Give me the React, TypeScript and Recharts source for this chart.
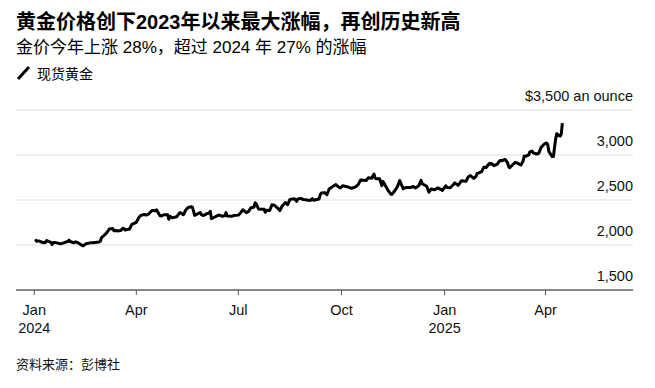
import { LineChart, Line, XAxis, YAxis, CartesianGrid } from 'recharts'

// spot gold, USD per ounce
const dates2024 = [
  '01-02', '01-03', '01-04', '01-05', '01-08', '01-09', '01-10', '01-11', '01-12', '01-16',
  '01-17', '01-18', '01-19', '01-22', '01-24', '01-26', '01-29', '01-31', '02-01', '02-02',
  '02-05', '02-07', '02-09', '02-13', '02-14', '02-16', '02-20', '02-22', '02-26', '02-28',
  '02-29', '03-01', '03-04', '03-05', '03-07', '03-08', '03-11', '03-12', '03-14', '03-15',
  '03-18', '03-20', '03-21', '03-22', '03-26', '03-28', '04-01', '04-03', '04-05', '04-08',
  '04-10', '04-12', '04-15', '04-16', '04-18', '04-19', '04-22', '04-23', '04-25', '04-26',
  '04-29', '04-30', '05-01', '05-03', '05-07', '05-09', '05-10', '05-13', '05-15', '05-17',
  '05-20', '05-21', '05-22', '05-23', '05-24', '05-28', '05-29', '05-31', '06-03', '06-05',
  '06-06', '06-07', '06-10', '06-12', '06-14', '06-17', '06-19', '06-20', '06-21', '06-25',
  '06-27', '07-01', '07-03', '07-05', '07-08', '07-10', '07-12', '07-15', '07-16', '07-17',
  '07-19', '07-22', '07-24', '07-25', '07-26', '07-29', '07-31', '08-02', '08-05', '08-07',
  '08-09', '08-12', '08-14', '08-16', '08-20', '08-22', '08-23', '08-26', '08-28', '08-30',
  '09-03', '09-05', '09-06', '09-09', '09-11', '09-12', '09-13', '09-16', '09-18', '09-20',
  '09-24', '09-26', '09-27', '09-30', '10-02', '10-04', '10-07', '10-10', '10-14', '10-16',
  '10-18', '10-21', '10-23', '10-25', '10-28', '10-30', '10-31', '11-01', '11-04', '11-06',
  '11-07', '11-08', '11-12', '11-14', '11-15', '11-18', '11-20', '11-22', '11-25', '11-26',
  '11-28', '12-02', '12-04', '12-06', '12-09', '12-11', '12-12', '12-16', '12-18', '12-20',
  '12-23', '12-26', '12-30', '12-31',
]
const prices2024 = [
  2063, 2041, 2043, 2045, 2028, 2030, 2024, 2029, 2049, 2028,
  2006, 2023, 2029, 2021, 2014, 2018, 2033, 2039, 2054, 2039,
  2025, 2035, 2024, 1992, 1992, 2013, 2024, 2024, 2031, 2034,
  2044, 2083, 2115, 2128, 2160, 2179, 2182, 2158, 2162, 2156,
  2160, 2186, 2181, 2166, 2178, 2230, 2251, 2300, 2329, 2339,
  2333, 2344, 2383, 2383, 2379, 2391, 2327, 2322, 2332, 2337,
  2335, 2286, 2320, 2301, 2314, 2346, 2360, 2336, 2386, 2415,
  2425, 2421, 2379, 2329, 2334, 2361, 2338, 2327, 2349, 2355,
  2375, 2293, 2311, 2324, 2333, 2319, 2328, 2360, 2322, 2319,
  2327, 2332, 2356, 2392, 2359, 2371, 2411, 2422, 2469, 2458,
  2400, 2396, 2398, 2364, 2387, 2384, 2448, 2443, 2410, 2382,
  2431, 2472, 2447, 2507, 2514, 2485, 2512, 2518, 2505, 2503,
  2493, 2516, 2497, 2506, 2512, 2558, 2578, 2582, 2558, 2622,
  2657, 2672, 2658, 2634, 2659, 2653, 2644, 2630, 2649, 2674,
  2721, 2720, 2716, 2747, 2742, 2788, 2744, 2736, 2736, 2659,
  2706, 2685, 2598, 2565, 2563, 2611, 2651, 2716, 2625, 2633,
  2638, 2640, 2650, 2633, 2660, 2718, 2681, 2652, 2587, 2623,
  2614, 2634, 2607, 2624,
]
const dates2025 = [
  '01-02', '01-03', '01-06', '01-08', '01-10', '01-13', '01-15', '01-16', '01-20', '01-22',
  '01-24', '01-27', '01-29', '01-30', '01-31', '02-03', '02-05', '02-07', '02-10', '02-11',
  '02-12', '02-14', '02-17', '02-19', '02-20', '02-21', '02-24', '02-26', '02-27', '02-28',
  '03-03', '03-05', '03-07', '03-10', '03-12', '03-13', '03-14', '03-17', '03-18', '03-20',
  '03-21', '03-24', '03-26', '03-28', '03-31', '04-02', '04-03', '04-04', '04-07', '04-08',
  '04-09', '04-10', '04-11', '04-14', '04-15', '04-16',
]
const prices2025 = [
  2658, 2640, 2636, 2662, 2690, 2662, 2697, 2715, 2707, 2756,
  2771, 2740, 2763, 2795, 2798, 2815, 2865, 2861, 2908, 2898,
  2904, 2882, 2898, 2934, 2939, 2936, 2951, 2916, 2875, 2858,
  2894, 2919, 2910, 2889, 2934, 2988, 2984, 3001, 3035, 3044,
  3023, 3011, 3019, 3085, 3123, 3134, 3114, 3037, 2982, 2982,
  3083, 3176, 3237, 3210, 3230, 3355,
]

const tickDates = ['2024-01-01', '2024-04-01', '2024-07-01', '2024-10-01', '2025-01-01', '2025-04-01']
const tickMonths = ['Jan', 'Apr', 'Jul', 'Oct', 'Jan', 'Apr']
const tickYears = ['2024', '', '', '', '2025', '']
const yTicks = [1500, 2000, 2500, 3000, 3500]

const BASE = Date.UTC(2024, 0, 1)
const dayOf = (s: string) => (Date.parse(s) - BASE) / 86400000

const data = [
  ...dates2024.map((d, i) => ({ t: dayOf('2024-' + d), price: prices2024[i] })),
  ...dates2025.map((d, i) => ({ t: dayOf('2025-' + d), price: prices2025[i] })),
]
const xTicks = tickDates.map(dayOf)

const FONT = '"Liberation Sans", Arial, "Noto Sans CJK SC", sans-serif'

function XTick(props: any) {
  const { x, y, payload } = props
  const i = xTicks.indexOf(payload.value)
  return (
    <g>
      <text x={x} y={y + 18} textAnchor="middle" fontSize={14.5} fill="#111" fontFamily={FONT}>
        {tickMonths[i]}
      </text>
      {tickYears[i] && (
        <text x={x} y={y + 36} textAnchor="middle" fontSize={14.5} fill="#111" fontFamily={FONT}>
          {tickYears[i]}
        </text>
      )}
    </g>
  )
}

function YTick(props: any) {
  const { x, y, payload } = props
  const v = payload.value as number
  const label = v === 3500 ? '$3,500 an ounce' : v.toLocaleString('en-US')
  return (
    <text x={x} y={y - 9} textAnchor="end" fontSize={14.5} fill="#111" fontFamily={FONT}>
      {label}
    </text>
  )
}

export default function App() {
  return (
    <div style={{ position: 'absolute', left: 0, top: 0, width: 655, height: 388, background: '#fff', fontFamily: FONT, color: '#000' }}>
      <div style={{ position: 'absolute', left: 16, top: 10, fontSize: 20, fontWeight: 'bold', lineHeight: '24px', whiteSpace: 'nowrap' }}>
        黄金价格创下2023年以来最大涨幅，再创历史新高
      </div>
      <div style={{ position: 'absolute', left: 16, top: 38, fontSize: 17, lineHeight: '20px', whiteSpace: 'nowrap' }}>
        金价今年上涨 28%，超过 2024 年 27% 的涨幅
      </div>
      <div style={{ position: 'absolute', left: 16, top: 64, height: 18, display: 'flex', alignItems: 'center', fontSize: 14, whiteSpace: 'nowrap' }}>
        <svg width={16} height={16} style={{ marginRight: 5 }}>
          <line x1={2} y1={14} x2={13} y2={2} stroke="#000" strokeWidth={3} />
        </svg>
        现货黄金
      </div>
      <div style={{ position: 'absolute', left: 16, top: 357, fontSize: 13, lineHeight: '16px', color: '#111', whiteSpace: 'nowrap' }}>
        资料来源：彭博社
      </div>
      <div style={{ position: 'absolute', left: 0, top: 0 }}>
        <LineChart width={655} height={388} data={data} margin={{ top: 110, right: 22, bottom: 48, left: 16 }}>
          <CartesianGrid horizontal vertical={false} stroke="#ddd" />
          <XAxis
            dataKey="t"
            type="number"
            domain={[-16.3, 534]}
            ticks={xTicks}
            height={50}
            tick={(p: any) => <XTick {...p} />}
            tickSize={5}
            tickLine={{ stroke: '#555' }}
            axisLine={{ stroke: '#222' }}
            allowDataOverflow
          />
          <YAxis
            orientation="right"
            mirror
            width={1}
            type="number"
            domain={[1500, 3500]}
            ticks={yTicks}
            interval={0}
            tickSize={0}
            tickMargin={0}
            tickLine={false}
            axisLine={false}
            tick={(p: any) => <YTick {...p} />}
          />
          <Line
            type="linear"
            dataKey="price"
            stroke="#000"
            strokeWidth={3}
            strokeLinejoin="round"
            dot={false}
            isAnimationActive={false}
          />
        </LineChart>
      </div>
    </div>
  )
}
